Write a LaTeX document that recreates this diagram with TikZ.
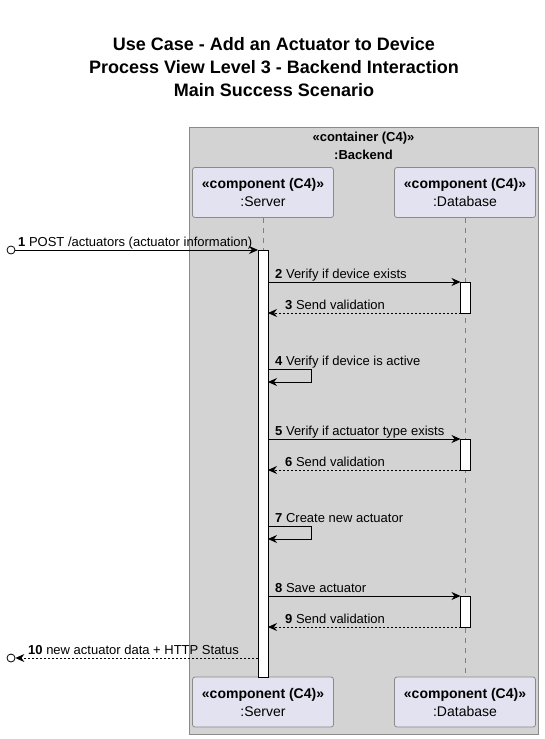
\documentclass[tikz,border=0pt]{standalone}
\usepackage{fontspec}
\setmainfont{Liberation Sans}
\usetikzlibrary{arrows.meta}

\definecolor{boxfill}{HTML}{D3D3D3}
\definecolor{boxline}{HTML}{8A8A8A}
\definecolor{partfill}{HTML}{E2E2F0}

\tikzset{
	part/.style={draw=boxline, fill=partfill, line width=0.8pt, rounded corners=2.5pt,
		minimum width=141pt, minimum height=50pt, align=center, inner sep=0pt,
		font=\fontsize{14}{18}\selectfont},
	life/.style={draw=gray, line width=0.8pt, dash pattern=on 5pt off 5pt},
	actbar/.style={draw=black, fill=white, line width=0.8pt},
	call/.style={line width=0.8pt, -{Stealth[length=9pt,width=8pt,inset=3pt]}},
	reply/.style={call, dash pattern=on 2pt off 2pt},
	lbl/.style={anchor=base west, inner sep=0pt, font=\fontsize{13}{15}\selectfont},
	endpt/.style={circle, draw, fill=white, line width=0.8pt, minimum size=8pt, inner sep=0pt}
}

\begin{document}
\begin{tikzpicture}[x=1pt, y=-1pt]
	\useasboundingbox (0,0) rectangle (544,739);
	
	% title
	\node[font=\fontsize{18}{23}\selectfont\bfseries, align=center] (title) at (274,67)
		{Use Case - Add an Actuator to Device\\Process View Level 3 - Backend Interaction\\Main Success Scenario};
	
	% container
	\draw[draw=boxline, fill=boxfill, line width=0.8pt] (189,127) rectangle (538,734);
	\node[font=\fontsize{13}{18}\selectfont\bfseries, align=center] (backend) at (363.5,146)
		{«container (C4)»\\:Backend};
	
	% participants
	\foreach \p/\x/\y/\l in {srvTop/263/192.5/Server, dbTop/465/192.5/Database,
		srvBot/263/702/Server, dbBot/465/702/Database} {
		\node[part] (\p) at (\x,\y) {\textbf{«component (C4)»}\\:\l};
	}
	\draw[life] (srvTop) -- (srvBot);
	\draw[life] (dbTop) -- (dbBot);
	
	% activations
	\draw[actbar] (258,250) rectangle (268,677);
	\foreach \y in {282,439,596} {
		\draw[actbar] (460.5,\y) rectangle (470.5,\y+31);
	}
	
	% incoming and outgoing
	\node[endpt] (src) at (11,250) {};
	\node[endpt] (dst) at (11,658) {};
	\coordinate (s1) at (258,250);
	\coordinate (s10) at (258,658);
	\draw[call] (src) -- (s1);
	\node[lbl] (l1) at (18,246) {\textbf{1} POST /actuators (actuator information)};
	\draw[reply] (s10) -- (dst);
	\node[lbl] (l10) at (28,654) {\textbf{10} new actuator data + HTTP Status};
	
	% server <-> database
	\foreach \y/\n/\t in {282/2/Verify if device exists, 439/5/Verify if actuator type exists, 596/8/Save actuator} {
		\coordinate (a\n) at (268,\y);
		\coordinate (b\n) at (460.5,\y);
		\draw[call] (a\n) -- (b\n);
		\node[lbl] (l\n) at (275,\y-4) {\textbf{\n} \t};
	}
	\foreach \y/\n in {313/3, 470/6, 627/9} {
		\coordinate (a\n) at (268,\y);
		\coordinate (b\n) at (460.5,\y);
		\draw[reply] (b\n) -- (a\n);
		\node[lbl] (l\n) at (285,\y-4) {\textbf{\n} Send validation};
	}
	
	% self calls
	\foreach \y/\n/\t in {369/4/Verify if device is active, 526/7/Create new actuator} {
		\coordinate (a\n) at (268,\y);
		\coordinate (c\n) at (311,\y);
		\coordinate (d\n) at (268,\y+13);
		\draw[call] (a\n) -- (c\n) |- (d\n);
		\node[lbl] (l\n) at (275,\y-4) {\textbf{\n} \t};
	}
\end{tikzpicture}
\end{document}
